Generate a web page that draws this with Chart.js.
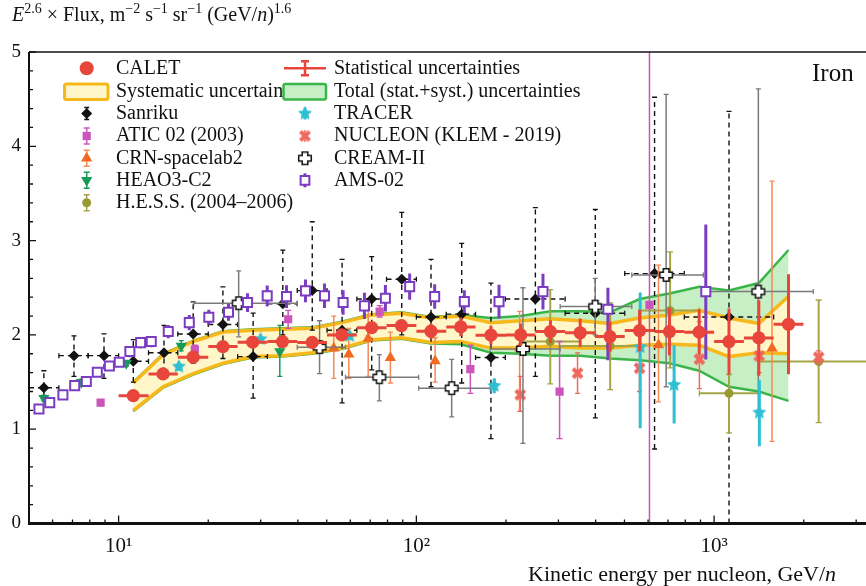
<!DOCTYPE html>
<html>
<head>
<meta charset="utf-8">
<script src="https://cdn.jsdelivr.net/npm/chart.js@4.4.1/dist/chart.umd.min.js"></script>
<style>
  html, body { margin: 0; padding: 0; background: #fff; }
</style>
</head>
<body>
<canvas id="ironChart" width="866" height="586"></canvas>
<script>
/* Iron spectrum: CALET vs. other experiments */

const SERIF = "'Liberation Serif', 'Times New Roman', 'DejaVu Serif', serif";

// ========= Axis ticks =========
const xTickValues = [10, 100, 1000];
const xTickLabels = ['10¹', '10²', '10³'];
const xMinorTicks = [6, 7, 8, 9, 20, 30, 40, 50, 60, 70, 80, 90, 200, 300, 400, 500, 600, 700, 800, 900, 2000, 3000];
const yTickValues = [0, 1, 2, 3, 4, 5];

// ========= CALET =========
const caletE = [11.2, 14.1, 17.8, 22.4, 28.2, 35.5, 44.7, 56.2, 70.8, 89.1, 112, 141, 178, 224, 282, 355, 447, 562, 708, 891, 1122, 1413, 1778];
const caletEdges = [10, 12.6, 15.8, 20, 25.1, 31.6, 39.8, 50.1, 63.1, 79.4, 100, 126, 158, 200, 251, 316, 398, 501, 631, 794, 1000, 1259, 1585, 1995];
const caletFlux = [1.356, 1.586, 1.764, 1.876, 1.923, 1.929, 1.92, 2.0, 2.077, 2.099, 2.039, 2.085, 1.997, 2.0, 2.035, 2.023, 1.982, 2.046, 2.035, 2.029, 1.929, 1.968, 2.113];
const caletStat = [0.02, 0.02, 0.02, 0.02, 0.03, 0.03, 0.04, 0.05, 0.05, 0.06, 0.08, 0.1, 0.1, 0.12, 0.12, 0.15, 0.16, 0.22, 0.25, 0.24, 0.35, 0.4, 0.53];
const sysLo = [1.20, 1.45, 1.59, 1.70, 1.77, 1.78, 1.81, 1.86, 1.95, 1.97, 1.92, 1.93, 1.86, 1.86, 1.88, 1.86, 1.86, 1.89, 1.90, 1.89, 1.77, 1.81, 1.80];
const sysHi = [1.49, 1.79, 1.93, 2.03, 2.05, 2.06, 2.07, 2.13, 2.21, 2.23, 2.18, 2.20, 2.13, 2.15, 2.17, 2.15, 2.12, 2.18, 2.21, 2.26, 2.18, 2.12, 2.41];
const totLo = [1.19, 1.44, 1.58, 1.69, 1.76, 1.77, 1.80, 1.85, 1.94, 1.96, 1.91, 1.90, 1.81, 1.80, 1.78, 1.78, 1.75, 1.73, 1.70, 1.62, 1.45, 1.40, 1.30];
const totHi = [1.50, 1.80, 1.94, 2.04, 2.06, 2.07, 2.08, 2.14, 2.22, 2.24, 2.19, 2.21, 2.18, 2.20, 2.25, 2.25, 2.24, 2.38, 2.44, 2.51, 2.47, 2.55, 2.90];

// ========= Sanriku =========
const sanE = [5.61, 7.08, 8.93, 11.2, 14.2, 17.8, 22.4, 28.3, 35.6, 44.7, 56.3, 70.8, 89.3, 112, 142, 178, 251, 399, 631, 1122];
const sanFlux = [1.44, 1.78, 1.78, 1.72, 1.81, 2.01, 2.11, 1.77, 2.33, 2.47, 2.05, 2.38, 2.59, 2.19, 2.22, 1.76, 2.38, 2.23, 2.65, 2.19];
const sanLo = [1.35, 1.56, 1.54, 1.50, 1.60, 1.70, 1.75, 1.33, 2.00, 2.05, 1.28, 1.63, 2.00, 1.45, 1.49, 0.90, 1.56, 1.12, 0.79, 0.0];
const sanHi = [1.62, 1.99, 2.01, 1.95, 2.10, 2.35, 2.51, 2.23, 2.90, 3.20, 2.80, 2.83, 3.30, 2.80, 2.97, 2.55, 3.35, 3.33, 4.52, 4.37];
const sanELo = [5.0, 6.3, 7.9, 10, 12.6, 15.8, 20, 25.1, 31.6, 39.8, 50.1, 63.1, 79.4, 100, 126, 158, 199, 316, 501, 794];
const sanEHi = [6.3, 7.9, 10, 12.6, 15.8, 20, 25.1, 31.6, 39.8, 50.1, 63.1, 79.4, 100, 126, 158, 199, 316, 501, 794, 1585];

// ========= AMS-02 =========
const amsE = [5.40, 5.87, 6.50, 7.12, 7.79, 8.48, 9.31, 10.05, 10.91, 11.85, 12.87, 14.68, 17.27, 20.09, 23.39, 27.10, 31.55, 36.63, 42.42, 49.14, 56.75, 66.92, 78.70, 94.95, 115.2, 144.9, 189.5, 266.2, 439.9, 937.8];
const amsFlux = [1.215, 1.282, 1.364, 1.462, 1.505, 1.604, 1.671, 1.710, 1.823, 1.918, 1.929, 2.035, 2.130, 2.188, 2.241, 2.343, 2.414, 2.406, 2.467, 2.414, 2.343, 2.308, 2.389, 2.512, 2.406, 2.353, 2.353, 2.459, 2.273, 2.459];
const amsLo = [1.165, 1.232, 1.314, 1.412, 1.455, 1.554, 1.621, 1.660, 1.763, 1.858, 1.869, 1.965, 2.050, 2.108, 2.151, 2.243, 2.304, 2.286, 2.347, 2.284, 2.213, 2.168, 2.249, 2.372, 2.276, 2.233, 2.173, 2.269, 1.73, 1.74];
const amsHi = [1.265, 1.332, 1.414, 1.512, 1.555, 1.654, 1.721, 1.760, 1.883, 1.978, 1.989, 2.105, 2.210, 2.268, 2.331, 2.443, 2.524, 2.526, 2.587, 2.544, 2.473, 2.448, 2.529, 2.652, 2.536, 2.473, 2.533, 2.649, 2.50, 3.17];

// ========= CREAM-II =========
const creamE = [25.3, 47.3, 75.1, 131.4, 228, 398.7, 690, 1408];
const creamFlux = [2.336, 1.87, 1.551, 1.435, 1.851, 2.30, 2.636, 2.459];
const creamLo = [1.98, 1.59, 1.30, 1.13, 0.85, 2.0, 1.45, 1.20];
const creamHi = [2.68, 2.15, 1.79, 1.74, 2.50, 2.6, 4.55, 4.61];
const creamELo = [17.9, 39.8, 57.8, 101.8, 177, 304, 529, 920];
const creamEHi = [39.8, 57.8, 101.8, 177, 304, 529, 920, 2153];

// ========= TRACER =========
const tracerE = [15.93, 29.96, 59.7, 182.7, 564.6, 734, 1419];
const tracerFlux = [1.664, 1.954, 1.989, 1.459, 1.87, 1.47, 1.176];
const tracerLo = [1.62, 1.92, 1.95, 1.38, 1.01, 1.06, 0.82];
const tracerHi = [1.71, 1.99, 2.03, 1.54, 2.45, 1.89, 1.52];

// ========= ATIC 02 =========
const aticE = [8.70, 18.03, 37.1, 75.3, 151.8, 302.7, 606.6];
const aticFlux = [1.282, 1.848, 2.166, 2.247, 1.636, 1.399, 2.318];
const aticLo = [1.25, 1.81, 2.07, 2.19, 1.38, 0.9, 0];
const aticHi = [1.31, 1.89, 2.26, 2.31, 1.89, 1.93, 5.2];

// ========= CRN-spacelab2 =========
const crnE = [52.8, 59.3, 68.9, 81.8, 115.6, 222.2, 650.4, 1565];
const crnFlux = [1.859, 1.795, 1.961, 1.759, 1.724, 1.86, 1.894, 1.859];
const crnLo = [1.54, 1.54, 1.56, 1.49, 1.50, 1.19, 1.29, 0.87];
const crnHi = [2.20, 2.07, 2.30, 2.03, 1.97, 2.25, 2.74, 3.63];

// ========= NUCLEON (KLEM) =========
const nucE = [223.4, 347.8, 561.6, 892.5, 1416, 2245];
const nucFlux = [1.364, 1.594, 1.647, 1.742, 1.777, 1.763];
const nucLo = [1.19, 1.38, 1.40, 1.43, 1.60, 1.70];
const nucHi = [1.56, 1.81, 1.88, 2.14, 1.95, 1.83];

// ========= HEAO3-C2 =========
const heaoE = [5.61, 7.50, 10.61, 16.23, 34.78];
const heaoFlux = [1.329, 1.498, 1.70, 1.883, 1.823];
const heaoLo = [1.30, 1.47, 1.67, 1.83, 1.56];
const heaoHi = [1.36, 1.53, 1.73, 1.94, 2.10];

// ========= H.E.S.S. =========
const hessE = [281.6, 447.7, 711.7, 1122, 2245];
const hessFlux = [1.929, 1.883, 2.258, 1.381, 1.717];
const hessLo = [1.48, 1.42, 1.65, 0.96, 1.07];
const hessHi = [2.48, 2.34, 2.88, 1.58, 2.37];
const hessELo = [229, 302, 565, 892, 1412];
const hessEHi = [355, 565, 892, 1412, 5000];

// Colors
const colors = {
  calet: '#E8463A',
  sysLine: '#F7B81B',
  sysFill: '#FFF7C9',
  totLine: '#3BB54A',
  totFill: '#C6EFC6',
  sanriku: '#111111',
  atic: '#CC55BB',
  crn: '#F26A22',
  heao: '#159A57',
  hess: '#9A9A35',
  tracer: '#2EBFD3',
  nucleon: '#EE685C',
  cream: '#7A7A7A',
  ams: '#7A3CC0'
};

// small canvases used as point styles
function makeMarker(size, draw) {
  const c = document.createElement('canvas');
  c.width = size; c.height = size;
  draw(c.getContext('2d'), size / 2);
  return c;
}
const starImg = makeMarker(16, (g, r) => {
  g.beginPath();
  for (let i = 0; i < 10; i++) {
    const a = -Math.PI / 2 + i * Math.PI / 5;
    const rr = i % 2 ? r * 0.45 : r - 0.5;
    g.lineTo(r + rr * Math.cos(a), r + rr * Math.sin(a));
  }
  g.closePath();
  g.fillStyle = colors.tracer;
  g.fill();
});
const xImg = makeMarker(15, (g) => {
  g.strokeStyle = colors.nucleon; g.lineWidth = 4;
  g.beginPath(); g.moveTo(3, 3); g.lineTo(12, 12); g.moveTo(12, 3); g.lineTo(3, 12); g.stroke();
});
const crossImg = makeMarker(16, (g, r) => {
  const a = 2.8, b = 6.3;
  g.beginPath();
  g.moveTo(r - a, r - b); g.lineTo(r + a, r - b); g.lineTo(r + a, r - a); g.lineTo(r + b, r - a);
  g.lineTo(r + b, r + a); g.lineTo(r + a, r + a); g.lineTo(r + a, r + b); g.lineTo(r - a, r + b);
  g.lineTo(r - a, r + a); g.lineTo(r - b, r + a); g.lineTo(r - b, r - a); g.lineTo(r - a, r - a);
  g.closePath();
  g.fillStyle = '#fff'; g.fill();
  g.strokeStyle = '#111'; g.lineWidth = 1.5; g.stroke();
});

const xy = (xs, ys) => xs.map((x, i) => ({ x: x, y: ys[i] }));

// ========= Datasets =========
const bandStyle = { type: 'line', pointRadius: 0, tension: 0 };
const datasets = [
  { ...bandStyle, data: xy(caletE, totLo), borderColor: colors.totLine, borderWidth: 2.5, fill: '+1', backgroundColor: colors.totFill, order: 100 },
  { ...bandStyle, data: xy(caletE, totHi), borderColor: colors.totLine, borderWidth: 2.5, fill: false, order: 99 },
  { ...bandStyle, data: xy(caletE, sysLo), borderColor: colors.sysLine, borderWidth: 3.5, fill: '+1', backgroundColor: colors.sysFill, order: 98 },
  { ...bandStyle, data: xy(caletE, sysHi), borderColor: colors.sysLine, borderWidth: 3.5, fill: false, order: 97 },
  { label: 'Sanriku', data: xy(sanE, sanFlux), pointStyle: 'rectRot', pointRadius: 5.5, backgroundColor: colors.sanriku, borderWidth: 0,
    errLo: sanLo, errHi: sanHi, errELo: sanELo, errEHi: sanEHi, errColor: colors.sanriku, errWidth: 1.4, errDash: [5, 4], cap: 2.5, order: 50 },
  { label: 'H.E.S.S.', data: xy(hessE, hessFlux), pointStyle: 'circle', pointRadius: 4.5, backgroundColor: colors.hess, borderWidth: 0,
    errLo: hessLo, errHi: hessHi, errELo: hessELo, errEHi: hessEHi, errColor: '#A5A548', errWidth: 2, cap: 3, order: 48 },
  { label: 'ATIC 02', data: xy(aticE, aticFlux), pointStyle: 'rect', pointRadius: 5.8, backgroundColor: colors.atic, borderWidth: 0,
    errLo: aticLo, errHi: aticHi, errColor: colors.atic, errWidth: 1.5, cap: 3, order: 47 },
  { label: 'CRN', data: xy(crnE, crnFlux), pointStyle: 'triangle', pointRadius: 6.5, backgroundColor: colors.crn, borderWidth: 0,
    errLo: crnLo, errHi: crnHi, errColor: '#F58A55', errWidth: 1.5, cap: 2.5, order: 46 },
  { label: 'HEAO3-C2', data: xy(heaoE, heaoFlux), pointStyle: 'triangle', rotation: 180, pointRadius: 6.5, backgroundColor: colors.heao, borderWidth: 0,
    errLo: heaoLo, errHi: heaoHi, errColor: colors.heao, errWidth: 1.5, cap: 2.5, order: 45 },
  { label: 'NUCLEON', data: xy(nucE, nucFlux), pointStyle: xImg, errLo: nucLo, errHi: nucHi, errColor: colors.nucleon, errWidth: 1.5, cap: 2.5, order: 44 },
  { label: 'CREAM-II', data: xy(creamE, creamFlux), pointStyle: crossImg,
    errLo: creamLo, errHi: creamHi, errELo: creamELo, errEHi: creamEHi, errColor: colors.cream, errWidth: 1.5, cap: 2.5, order: 43 },
  { label: 'TRACER', data: xy(tracerE, tracerFlux), pointStyle: starImg, errLo: tracerLo, errHi: tracerHi, errColor: colors.tracer, errWidth: 3, order: 42 },
  { label: 'AMS-02', data: xy(amsE, amsFlux), pointStyle: 'rect', pointRadius: 6.4, backgroundColor: '#fff', borderColor: colors.ams, borderWidth: 2,
    errLo: amsLo, errHi: amsHi, errColor: colors.ams, errWidth: 3, order: 41 },
  { label: 'CALET', data: xy(caletE, caletFlux), pointStyle: 'circle', pointRadius: 6.6, backgroundColor: colors.calet, borderWidth: 0,
    errLo: caletFlux.map((v, i) => v - caletStat[i]), errHi: caletFlux.map((v, i) => v + caletStat[i]),
    errELo: caletEdges.slice(0, -1), errEHi: caletEdges.slice(1), errColor: colors.calet, errWidth: 3, order: 1 }
];

// ========= Error bars (drawn just under each dataset) =========
const errorBarPlugin = {
  id: 'errorBars',
  beforeDatasetDraw(chart, args) {
    const ds = chart.data.datasets[args.index];
    if (!ds.errLo && !ds.errELo) return;
    const ctx = chart.ctx, xs = chart.scales.x, ys = chart.scales.y, a = chart.chartArea;
    ctx.save();
    ctx.beginPath(); ctx.rect(a.left, a.top, a.right - a.left, a.bottom - a.top); ctx.clip();
    ctx.strokeStyle = ds.errColor;
    ctx.lineWidth = ds.errWidth || 1.5;
    const cap = ds.cap || 0;
    ds.data.forEach((p, i) => {
      const px = xs.getPixelForValue(p.x), py = ys.getPixelForValue(p.y);
      ctx.setLineDash(ds.errDash || []);
      ctx.beginPath();
      let y1, y2, x1, x2;
      if (ds.errLo) {
        y1 = ys.getPixelForValue(ds.errLo[i]); y2 = ys.getPixelForValue(ds.errHi[i]);
        ctx.moveTo(px, y1); ctx.lineTo(px, y2);
      }
      if (ds.errELo) {
        x1 = xs.getPixelForValue(ds.errELo[i]); x2 = xs.getPixelForValue(ds.errEHi[i]);
        ctx.moveTo(x1, py); ctx.lineTo(x2, py);
      }
      ctx.stroke();
      if (cap) {
        ctx.setLineDash([]);
        ctx.lineWidth = 1.3;
        ctx.beginPath();
        if (ds.errLo) {
          ctx.moveTo(px - cap, y1); ctx.lineTo(px + cap, y1);
          ctx.moveTo(px - cap, y2); ctx.lineTo(px + cap, y2);
        }
        if (ds.errELo) {
          ctx.moveTo(x1, py - cap); ctx.lineTo(x1, py + cap);
          ctx.moveTo(x2, py - cap); ctx.lineTo(x2, py + cap);
        }
        ctx.stroke();
        ctx.lineWidth = ds.errWidth || 1.5;
      }
    });
    ctx.restore();
  }
};

// text with superscripts / italics
function drawRich(ctx, parts, x, y, size) {
  parts.forEach(p => {
    const fs = p.sup ? Math.round(size * 0.68) : size;
    ctx.font = (p.it ? 'italic ' : '') + fs + 'px ' + SERIF;
    ctx.fillText(p.t, x, p.sup ? y - size * 0.4 : y);
    x += ctx.measureText(p.t).width;
  });
}

function legendMark(ctx, x, y, o) {
  if (o.bar) {
    ctx.save();
    ctx.strokeStyle = o.barColor || o.fill;
    ctx.lineWidth = o.barW || 1.5;
    ctx.beginPath(); ctx.moveTo(x, y - o.bar); ctx.lineTo(x, y + o.bar);
    if (o.cap) {
      ctx.moveTo(x - o.cap, y - o.bar); ctx.lineTo(x + o.cap, y - o.bar);
      ctx.moveTo(x - o.cap, y + o.bar); ctx.lineTo(x + o.cap, y + o.bar);
    }
    ctx.stroke();
    ctx.restore();
  }
  ctx.save();
  ctx.fillStyle = o.fill || '#000';
  ctx.strokeStyle = o.stroke || o.fill || '#000';
  ctx.lineWidth = o.bw || 0;
  Chart.helpers.drawPoint(ctx, { pointStyle: o.style, radius: o.r || 5, rotation: o.rot || 0, borderWidth: o.bw || 0 }, x, y);
  ctx.restore();
}

// ========= Frame, ticks, legend and labels =========
const framePlugin = {
  id: 'frame',
  afterDraw(chart) {
    const ctx = chart.ctx, a = chart.chartArea, xs = chart.scales.x, ys = chart.scales.y;
    ctx.save();
    ctx.strokeStyle = '#111';
    // ticks (inside)
    ctx.lineWidth = 1.3;
    ctx.beginPath();
    for (let v = 0; v <= 50; v += 2) {
      const py = ys.getPixelForValue(v / 10);
      const len = v % 10 === 0 ? 7 : 4;
      ctx.moveTo(a.left, py); ctx.lineTo(a.left + len, py);
    }
    xTickValues.forEach(v => { const px = xs.getPixelForValue(v); ctx.moveTo(px, a.bottom); ctx.lineTo(px, a.bottom - 8); });
    xMinorTicks.forEach(v => { const px = xs.getPixelForValue(v); ctx.moveTo(px, a.bottom); ctx.lineTo(px, a.bottom - 4); });
    ctx.stroke();
    // axes
    ctx.lineWidth = 1.5;
    ctx.beginPath(); ctx.moveTo(a.left, a.top); ctx.lineTo(866, a.top); ctx.stroke();
    ctx.lineWidth = 2;
    ctx.beginPath(); ctx.moveTo(a.left, a.top); ctx.lineTo(a.left, a.bottom); ctx.stroke();
    ctx.lineWidth = 3;
    ctx.beginPath(); ctx.moveTo(a.left - 1, a.bottom); ctx.lineTo(866, a.bottom); ctx.stroke();

    // title
    ctx.fillStyle = '#111';
    ctx.textBaseline = 'alphabetic';
    ctx.textAlign = 'left';
    drawRich(ctx, [
      { t: 'E', it: 1 }, { t: '2.6', sup: 1 }, { t: ' × Flux, m' }, { t: '−2', sup: 1 }, { t: ' s' }, { t: '−1', sup: 1 },
      { t: ' sr' }, { t: '−1', sup: 1 }, { t: ' (GeV/' }, { t: 'n', it: 1 }, { t: ')' }, { t: '1.6', sup: 1 }
    ], 12, 21, 20);

    // x axis title (condensed)
    ctx.font = '22px ' + SERIF;
    const xt = 'Kinetic energy per nucleon, GeV/';
    const w = Math.min(ctx.measureText(xt).width, 330);
    ctx.fillText(xt, 528, 581, 330);
    ctx.font = 'italic 22px ' + SERIF;
    ctx.fillText('n', 528 + w, 581);

    // Iron
    ctx.font = '25px ' + SERIF;
    ctx.fillText('Iron', 812, 81);

    // legend
    ctx.font = '20px ' + SERIF;
    ctx.textBaseline = 'middle';
    const rows = [68.3, 91.7, 113.5, 136, 158.3, 180.3, 202.7];
    const lx = 86.7, rx = 305;
    const left = [
      ['CALET', { style: 'circle', r: 7, fill: colors.calet, bar: 6, barColor: colors.calet, barW: 3 }],
      ['Systematic uncertainties', null],
      ['Sanriku', { style: 'rectRot', r: 5.5, fill: colors.sanriku, bar: 6, cap: 2.5 }],
      ['ATIC 02 (2003)', { style: 'rect', r: 5.8, fill: colors.atic, bar: 8, cap: 3 }],
      ['CRN-spacelab2', { style: 'triangle', r: 6.5, fill: colors.crn, bar: 8, cap: 3, barColor: '#F58A55' }],
      ['HEAO3-C2', { style: 'triangle', rot: 180, r: 6.5, fill: colors.heao, bar: 8, cap: 3 }],
      ['H.E.S.S. (2004–2006)', { style: 'circle', r: 4.5, fill: colors.hess, bar: 8, cap: 3, barColor: '#A5A548' }]
    ];
    const right = [
      ['Statistical uncertainties', null],
      ['Total (stat.+syst.) uncertainties', null],
      ['TRACER', { style: starImg, bar: 6, barColor: colors.tracer, barW: 3 }],
      ['NUCLEON (KLEM - 2019)', { style: xImg, bar: 6, barColor: colors.nucleon }],
      ['CREAM-II', { style: crossImg }],
      ['AMS-02', { style: 'rect', r: 6.2, fill: '#fff', stroke: colors.ams, bw: 2, bar: 7, barColor: colors.ams, barW: 3 }]
    ];
    left.forEach((row, i) => {
      ctx.fillStyle = '#111';
      ctx.fillText(row[0], 116, rows[i]);
      if (row[1]) legendMark(ctx, lx, rows[i], row[1]);
    });
    // systematic box
    ctx.fillStyle = colors.sysFill; ctx.strokeStyle = colors.sysLine; ctx.lineWidth = 3;
    ctx.beginPath(); ctx.roundRect(64.5, 84, 43.5, 15.5, 2); ctx.fill(); ctx.stroke();
    // statistical symbol
    ctx.strokeStyle = colors.calet; ctx.lineWidth = 2.5;
    ctx.beginPath();
    ctx.moveTo(284, rows[0]); ctx.lineTo(326, rows[0]);
    ctx.moveTo(rx, rows[0] - 7); ctx.lineTo(rx, rows[0] + 7);
    ctx.moveTo(rx - 4, rows[0] - 7); ctx.lineTo(rx + 4, rows[0] - 7);
    ctx.moveTo(rx - 4, rows[0] + 7); ctx.lineTo(rx + 4, rows[0] + 7);
    ctx.stroke();
    // total box (covers the end of the systematic label)
    ctx.fillStyle = colors.totFill; ctx.strokeStyle = colors.totLine; ctx.lineWidth = 2.5;
    ctx.beginPath(); ctx.roundRect(283.5, 84, 42.5, 15.5, 2); ctx.fill(); ctx.stroke();
    right.forEach((row, i) => {
      ctx.fillStyle = '#111';
      ctx.fillText(row[0], 334, rows[i]);
      if (row[1]) legendMark(ctx, rx, rows[i], row[1]);
    });
    ctx.restore();
  }
};

new Chart(document.getElementById('ironChart'), {
  type: 'scatter',
  data: { datasets: datasets },
  options: {
    responsive: false,
    animation: false,
    devicePixelRatio: 1,
    layout: { autoPadding: false, padding: { top: 52, right: 0, bottom: 0, left: 0 } },
    plugins: { legend: { display: false }, tooltip: { enabled: false } },
    elements: { point: { hoverRadius: 0 } },
    scales: {
      x: {
        type: 'logarithmic',
        min: 5,
        max: 3237,
        grid: { display: false, drawTicks: false },
        border: { display: false },
        afterBuildTicks: s => { s.ticks = xTickValues.map(v => ({ value: v })); },
        afterFit: s => { s.height = 62.5; s.paddingLeft = 0; s.paddingRight = 0; },
        ticks: {
          autoSkip: false, maxRotation: 0, padding: 10, color: '#111',
          font: { family: SERIF, size: 21 },
          callback: v => xTickLabels[xTickValues.indexOf(v)]
        }
      },
      y: {
        min: 0,
        max: 5,
        grid: { display: false, drawTicks: false },
        border: { display: false },
        afterBuildTicks: s => { s.ticks = yTickValues.map(v => ({ value: v })); },
        afterFit: s => { s.width = 29; s.paddingTop = 0; s.paddingBottom = 0; },
        ticks: { padding: 8, color: '#111', font: { family: SERIF, size: 19 } }
      }
    }
  },
  plugins: [errorBarPlugin, framePlugin]
});
</script>
</body>
</html>
